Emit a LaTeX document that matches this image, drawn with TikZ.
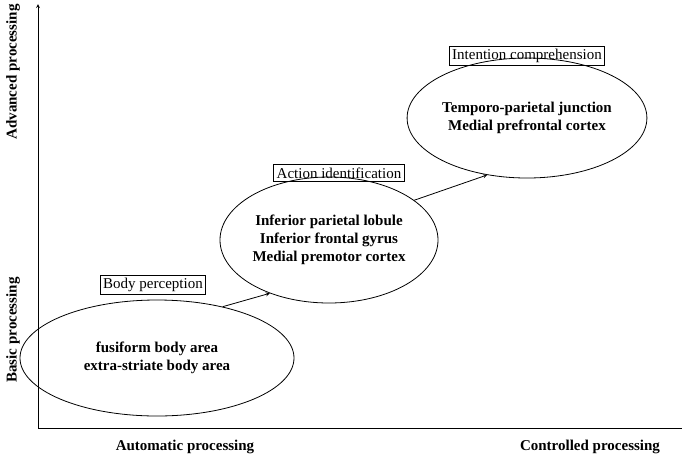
\documentclass[tikz,border=0pt]{standalone}
\usepackage{fontspec}
\setmainfont{Liberation Serif}
\usetikzlibrary{arrows,positioning,shapes.geometric}
\tikzstyle{region}=[
	ellipse,
	draw,
	thick,
	inner sep=0pt,
	font=\fontsize{15}{18}\selectfont\bfseries,
	align=center
]
\tikzstyle{stage}=[
	rectangle,
	draw,
	thick,
	inner sep=3pt,
	font=\fontsize{15}{18}\selectfont
]
\tikzstyle{progress}=[
	->,
	>=stealth,
	thick
]
\tikzstyle{axislabel}=[
	font=\fontsize{15}{18}\selectfont\bfseries
]
\begin{document}
\begin{tikzpicture}[x=1pt,y=-1pt]
\useasboundingbox (0,0) rectangle (685,464);
\coordinate (O) at (38,428);
\coordinate (Ytop) at (38,4);
\coordinate (Xend) at (682,428);
\draw [progress] (O) -- (Ytop);
\draw [thick] (O) -- (Xend);
\node [axislabel] (auto) at (185,447) {Automatic processing};
\node [axislabel] (ctrl) at (590,447) {Controlled processing};
\node [axislabel, rotate=90] (adv) at (13,72) {Advanced processing};
\node [axislabel, rotate=90] (basic) at (13,330) {Basic processing};
\node [region, minimum width=274, minimum height=116] (body) at (157,358)
	{fusiform body area\\extra-striate body area};
\node [region, minimum width=218, minimum height=126] (action) at (329,240)
	{Inferior parietal lobule\\Inferior frontal gyrus\\Medial premotor cortex};
\node [region, minimum width=212, minimum height=120] (intent) at (527,118)
	{Temporo-parietal junction\\Medial prefrontal cortex};
\node [stage] (bodyp) at (153,285) {Body perception};
\node [stage] (actid) at (339,173) {Action identification};
\node [stage] (intcomp) at (527,56) {Intention comprehension};
\draw [progress] (body.38) -- (action.222);
\draw [progress] (action.25) -- (intent.235);
\end{tikzpicture}
\end{document}
